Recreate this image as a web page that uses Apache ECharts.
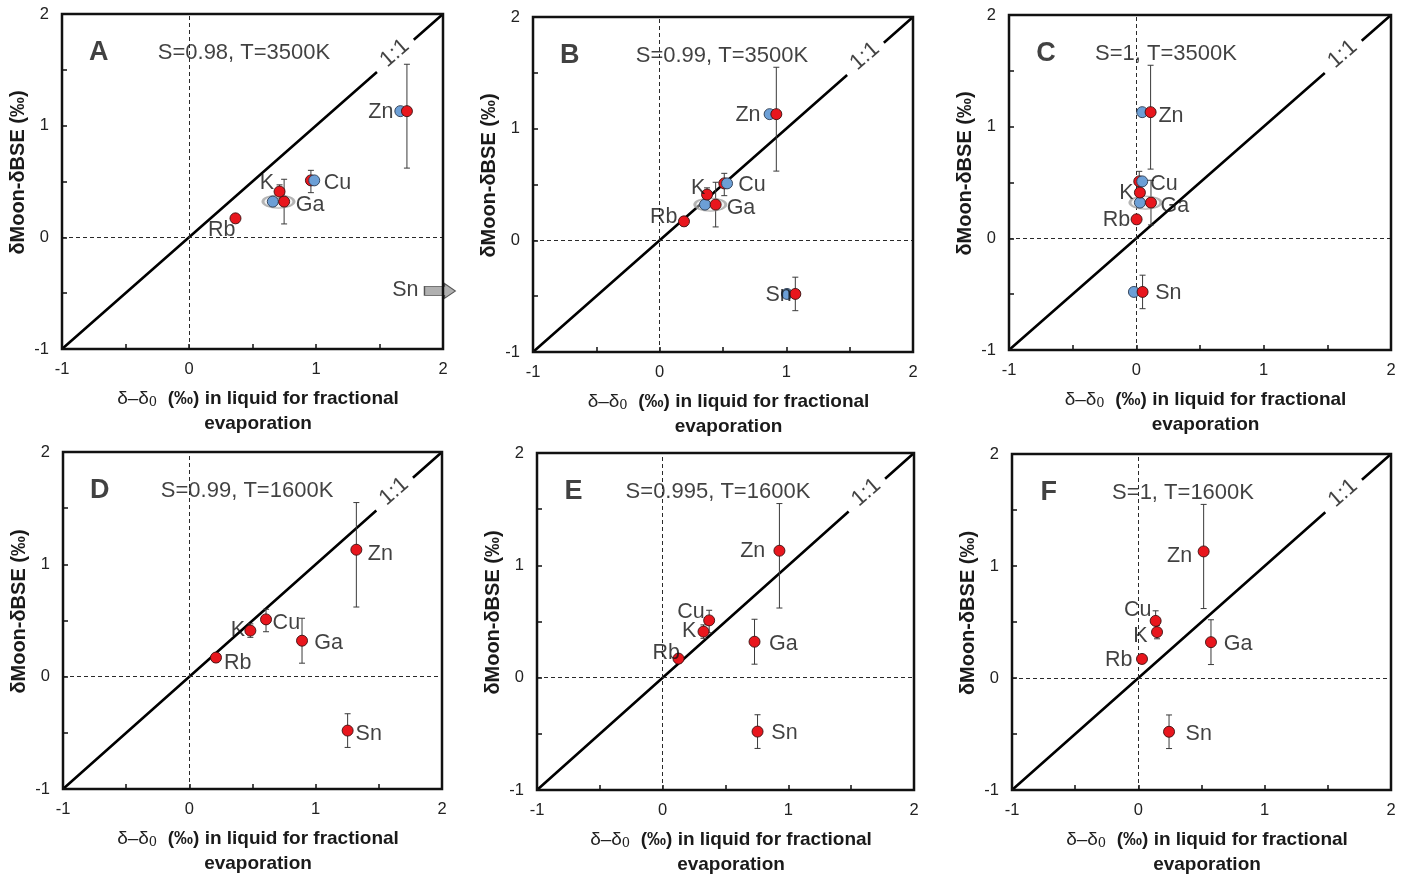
<!DOCTYPE html>
<html><head><meta charset="utf-8">
<script src="https://cdn.jsdelivr.net/npm/echarts@6/dist/echarts.min.js"></script>
<style>html,body{margin:0;padding:0;background:#fff}#c{width:1408px;height:878px}</style>
</head><body><div id="c"></div>
<script>
// ---------------- DATA ----------------
const elements = ['Zn', 'Cu', 'K', 'Ga', 'Rb', 'Sn'];
const moonY   = [1.13, 0.51, 0.41, 0.32, 0.17, -0.48];   // δMoon-δBSE (‰)
const errLow  = [0.62, 0.40, 0.35, 0.12, 0.13, -0.63];
const errHigh = [1.55, 0.60, 0.47, 0.52, 0.20, -0.33];
const axisTicks = [-1, 0, 1, 2];
const panelLetters = ['A', 'B', 'C', 'D', 'E', 'F'];
const panelTitles = ['S=0.98, T=3500K', 'S=0.99, T=3500K', 'S=1, T=3500K',
                     'S=0.99, T=1600K', 'S=0.995, T=1600K', 'S=1, T=1600K'];
// δ-δ0 in liquid (red = model, blue = second model; null = not shown)
const redA  = [1.716, 0.960, 0.713, 0.749, 0.366, null];
const blueA = [1.664, 0.986, null, 0.660, null, null];
const redB  = [0.921, 0.510, 0.374, 0.442, 0.192, 1.071];
const blueB = [0.868, 0.532, null, 0.358, null, 1.005];
const redC  = [0.112, 0.023, 0.028, 0.115, 0.002, 0.049];
const blueC = [0.046, 0.046, null, 0.028, null, -0.019];
const redD  = [1.322, 0.607, 0.483, 0.892, 0.211, 1.253];
const redE  = [0.929, 0.370, 0.325, 0.731, 0.126, 0.755];
const redF  = [0.517, 0.137, 0.148, 0.575, 0.029, 0.243];
const oneToOne = [-1, 2];

// ---------------- LAYOUT / ANNOTATION PLACEMENT ----------------
const grids = [
  {left: 62,   top: 14,  width: 381, height: 335},
  {left: 533,  top: 17,  width: 380, height: 335},
  {left: 1009, top: 15,  width: 382, height: 335},
  {left: 63,   top: 452, width: 379, height: 337},
  {left: 537,  top: 453, width: 377, height: 337},
  {left: 1012, top: 454, width: 379, height: 336}
];
const reds = [redA, redB, redC, redD, redE, redF];
const blues = [blueA, blueB, blueC, null, null, null];
const labelPos = [
  [[1.511,1.125],[1.170,0.49],[0.613,0.484],[0.954,0.29],[0.258,0.066],[1.703,-0.472]],
  [[0.697,1.124],[0.729,0.492],[0.303,0.471],[0.642,0.286],[0.032,0.211],[0.939,-0.486]],
  [[0.272,1.096],[0.217,0.484],[-0.077,0.403],[0.303,0.29],[-0.156,0.164],[0.251,-0.487]],
  [[1.512,1.092],[0.768,0.478],[0.385,0.418],[1.103,0.30],[0.383,0.122],[1.420,-0.51]],
  [[0.717,1.124],[0.2245,0.583],[0.211,0.411],[0.961,0.301],[0.028,0.218],[0.969,-0.495]],
  [[0.327,1.087],[-0.005,0.605],[0.016,0.373],[0.789,0.299],[-0.156,0.156],[0.478,-0.498]]
];
const titleX = [0.433, 0.492, 0.233, 0.457, 0.44, 0.354];
const gap11 = [1.48, 1.77];

const FONT = 'Liberation Sans, Arial, Helvetica, sans-serif';
const RED = '#e8161d', BLUE = '#6c9fd6';

function renderErr(params, api) {
  const x = api.value(0), lo = api.value(1), hi = api.value(2);
  const p1 = api.coord([x, hi]), p2 = api.coord([x, lo]);
  const cw = 3;
  const st = {stroke: '#3a3a3a', lineWidth: 1};
  return {type: 'group', children: [
    {type: 'line', shape: {x1: p1[0], y1: p1[1], x2: p2[0], y2: p2[1]}, style: st},
    {type: 'line', shape: {x1: p1[0]-cw, y1: p1[1], x2: p1[0]+cw, y2: p1[1]}, style: st},
    {type: 'line', shape: {x1: p2[0]-cw, y1: p2[1], x2: p2[0]+cw, y2: p2[1]}, style: st}
  ]};
}

const option = {
  backgroundColor: '#fff',
  animation: false,
  grid: grids.map(g => Object.assign({show: true, borderColor: '#111', borderWidth: 2.5, z: 10, backgroundColor: 'transparent'}, g)),
  xAxis: [], yAxis: [], series: []
};

function integerLabel(v) { return axisTicks.indexOf(Math.round(v * 100) / 100) >= 0 ? String(v) : ''; }

grids.forEach((g, i) => {
  option.xAxis.push({
    type: 'value', gridIndex: i, min: oneToOne[0], max: oneToOne[1], interval: 0.5,
    axisLine: {show: false, onZero: false}, splitLine: {show: false},
    axisTick: {show: true, inside: true, length: 5, lineStyle: {color: '#111', width: 1.5}},
    axisLabel: {formatter: integerLabel, color: '#222', fontSize: 16.5, fontFamily: FONT, margin: 12},
    name: '{a|δ–δ}{s|0}{b|  (‰) in liquid for fractional}\n{b|evaporation}',
    nameLocation: 'middle', nameGap: 37,
    nameTextStyle: {
      align: 'center', padding: [0, 0, 0, 11],
      rich: {
        a: {fontSize: 19, fontFamily: FONT, color: '#222', lineHeight: 25},
        s: {fontSize: 13, fontFamily: 'DejaVu Serif, serif', color: '#222', padding: [9, 0, 0, 0]},
        b: {fontSize: 19, fontWeight: 'bold', fontFamily: FONT, color: '#1a1a1a', lineHeight: 25}
      }
    }
  });
  option.yAxis.push({
    type: 'value', gridIndex: i, min: oneToOne[0], max: oneToOne[1], interval: 0.5,
    axisLine: {show: false, onZero: false}, splitLine: {show: false},
    axisTick: {show: true, inside: true, length: 5, lineStyle: {color: '#111', width: 1.5}},
    axisLabel: {formatter: integerLabel, color: '#222', fontSize: 16.5, fontFamily: FONT, margin: 13},
    name: 'δMoon-δBSE (‰)', nameLocation: 'middle', nameGap: 34,
    nameTextStyle: {fontSize: 20, fontWeight: 'bold', fontFamily: FONT, color: '#1a1a1a', padding: [0, 0, 0, 18]}
  });

  const ax = {xAxisIndex: i, yAxisIndex: i};
  // 1:1 line (with gap for label) + dashed zero lines
  option.series.push(Object.assign({
    type: 'line', silent: true, symbol: 'none', z: 3,
    lineStyle: {color: '#000', width: 2.6},
    data: [[oneToOne[0], oneToOne[0]], [gap11[0], gap11[0]], null, [gap11[1], gap11[1]], [oneToOne[1], oneToOne[1]]],
    connectNulls: false,
    markLine: {
      silent: true, symbol: 'none', label: {show: false}, animation: false,
      lineStyle: {color: '#2a2a2a', width: 1, type: [4, 3]},
      data: [{xAxis: 0}, {yAxis: 0}]
    }
  }, ax));
  // 1:1 label
  option.series.push(Object.assign({
    type: 'scatter', silent: true, symbolSize: 0, z: 4,
    data: [{value: [1.62, 1.65]}],
    label: {show: true, position: 'inside', formatter: '1:1', rotate: 41, fontSize: 22, fontFamily: FONT, color: '#111'}
  }, ax));
  // panel letter and title
  option.series.push(Object.assign({
    type: 'scatter', silent: true, symbolSize: 0, z: 4,
    data: [
      {value: [-0.71, 1.655], label: {formatter: panelLetters[i], fontSize: 27, fontWeight: 'bold'}},
      {value: [titleX[i], 1.655], label: {formatter: panelTitles[i], fontSize: 22}}
    ],
    label: {show: true, position: 'inside', fontFamily: FONT, color: '#111'}
  }, ax));

  const red = reds[i], blue = blues[i];
  // error bars at the red points
  const errData = [];
  elements.forEach((e, k) => { if (red[k] !== null) errData.push([red[k], errLow[k], errHigh[k]]); });
  option.series.push(Object.assign({
    type: 'custom', silent: true, z: 5, renderItem: renderErr,
    encode: {x: 0, y: [1, 2]}, data: errData
  }, ax));

  if (blue) {
    // ellipse around Ga pair
    const gk = elements.indexOf('Ga');
    option.series.push(Object.assign({
      type: 'scatter', silent: true, z: 6, symbol: 'circle', symbolSize: [31, 13],
      itemStyle: {color: 'rgba(225,225,225,0.55)', borderColor: '#a3a3a3', borderWidth: 2},
      data: [[(red[gk] + blue[gk]) / 2, moonY[gk]]]
    }, ax));
    const bd = [], bdTop = [];
    elements.forEach((e, k) => {
      if (blue[k] === null) return;
      (e === 'Cu' ? bdTop : bd).push([blue[k], moonY[k]]);
    });
    option.series.push(Object.assign({
      type: 'scatter', silent: true, z: 7, symbolSize: 11,
      itemStyle: {color: BLUE, borderColor: '#2a3a50', borderWidth: 0.9, opacity: 1}, data: bd
    }, ax));
    option.series.push(Object.assign({
      type: 'scatter', silent: true, z: 9, symbolSize: 11,
      itemStyle: {color: BLUE, borderColor: '#2a3a50', borderWidth: 0.9, opacity: 1}, data: bdTop
    }, ax));
  }
  const rd = [];
  elements.forEach((e, k) => { if (red[k] !== null) rd.push([red[k], moonY[k]]); });
  option.series.push(Object.assign({
    type: 'scatter', silent: true, z: 8, symbolSize: 11,
    itemStyle: {color: RED, borderColor: '#3a1010', borderWidth: 0.9, opacity: 1}, data: rd
  }, ax));

  // element labels
  option.series.push(Object.assign({
    type: 'scatter', silent: true, symbolSize: 0, z: 11,
    data: elements.map((e, k) => ({name: e, value: labelPos[i][k]})),
    label: {show: true, position: 'inside', formatter: '{b}', fontSize: 21.5, fontFamily: FONT, color: '#111'}
  }, ax));

  // off-scale Sn arrow in panel A
  if (red[elements.indexOf('Sn')] === null) {
    option.series.push(Object.assign({
      type: 'scatter', silent: true, z: 9,
      symbol: 'path://M0,3 L20,3 L20,0 L31,7.5 L20,15 L20,12 L0,12 Z', symbolSize: [31, 15],
      itemStyle: {color: '#9c9c9c', borderColor: '#333', borderWidth: 1},
      data: [[1.976, moonY[elements.indexOf('Sn')]]]
    }, ax));
  }
});

const chart = echarts.init(document.getElementById('c'), null, {renderer: 'canvas'});
chart.setOption(option);
</script>
</body></html>
